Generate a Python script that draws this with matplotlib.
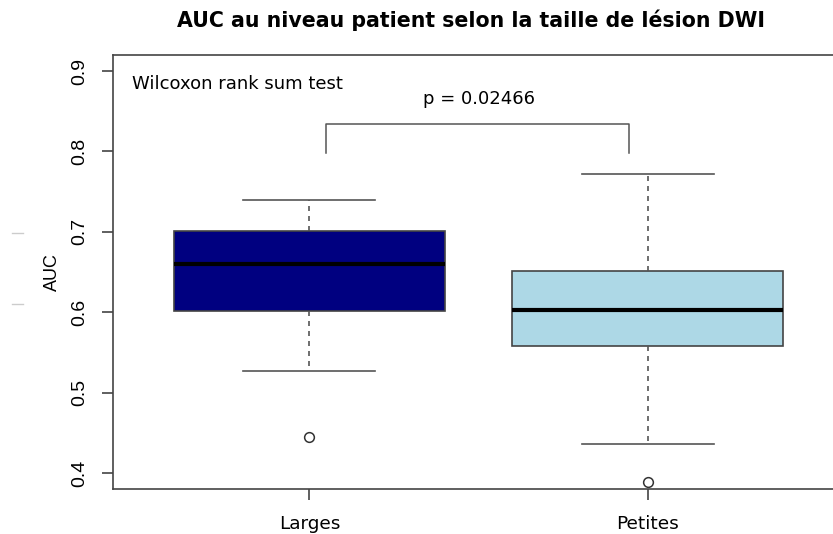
import matplotlib
matplotlib.use("Agg")
import matplotlib.pyplot as plt

# AUC summary per lesion-size group (patient level)
groups = ["Larges", "Petites"]
whisker_low = [0.527, 0.436]
q1 = [0.6015, 0.558]
median = [0.660, 0.603]
q3 = [0.701, 0.651]
whisker_high = [0.740, 0.772]
outliers = [[0.445], [0.389]]
box_colors = ["#000080", "#ADD8E6"]
p_value = "p = 0.02466"

stats = []
for i, g in enumerate(groups):
    stats.append({"label": g, "whislo": whisker_low[i], "q1": q1[i],
                  "med": median[i], "q3": q3[i], "whishi": whisker_high[i],
                  "fliers": outliers[i]})

fig = plt.figure(figsize=(8.33, 5.34), dpi=100)
# the plot region runs a bit past the right edge of the figure
ax = fig.add_axes([0.1357, 0.0843, 0.8775, 0.8127])

bp = ax.bxp(stats, positions=[1, 2], widths=0.8, patch_artist=True,
            boxprops=dict(edgecolor="#444444", linewidth=1.2),
            medianprops=dict(color="black", linewidth=3),
            whiskerprops=dict(color="#555555", linestyle=(0, (3, 3)), linewidth=1.2),
            capprops=dict(color="#555555", linewidth=1.2),
            capwidths=0.39,
            flierprops=dict(marker="o", markerfacecolor="none",
                            markeredgecolor="#333333", markersize=7, markeredgewidth=1.1))
for patch, c in zip(bp["boxes"], box_colors):
    patch.set_facecolor(c)

ax.set_xlim(0.42, 2.58)
ax.set_ylim(0.38, 0.92)
ax.set_yticks([0.4, 0.5, 0.6, 0.7, 0.8, 0.9])
ax.set_yticklabels(["0.4", "0.5", "0.6", "0.7", "0.8", "0.9"], rotation=90,
                   va="center", family="Liberation Sans", fontsize=14)
ax.set_xticks([1, 2])
ax.set_xticklabels(groups, fontsize=13.3)
ax.tick_params(axis="both", length=8, width=1.2, color="#444444")
ax.tick_params(axis="y", pad=9.5)
ax.tick_params(axis="x", pad=11)
for s in ax.spines.values():
    s.set_color("#444444")
    s.set_linewidth(1.2)

ax.set_ylabel("AUC", family="Liberation Sans", fontsize=13, labelpad=8)

# significance bracket
ax.plot([1.05, 1.05, 1.944, 1.944], [0.798, 0.834, 0.834, 0.798],
        color="#555555", linewidth=1.1)
ax.text(1.5, 0.865, p_value, ha="center", va="center", fontsize=13)
ax.text(0.476, 0.884, "Wilcoxon rank sum test", ha="left", va="center", fontsize=13)

fig.text(0.565, 0.962, "AUC au niveau patient selon la taille de lésion DWI",
         ha="center", va="center", fontsize=14.8, fontweight="bold")

# faint marks on the far left margin
for yy in [0.564, 0.431]:
    fig.add_artist(plt.Line2D([0.014, 0.028], [yy, yy], color="#cccccc", linewidth=1))

fig.savefig("out.png", dpi=100)
